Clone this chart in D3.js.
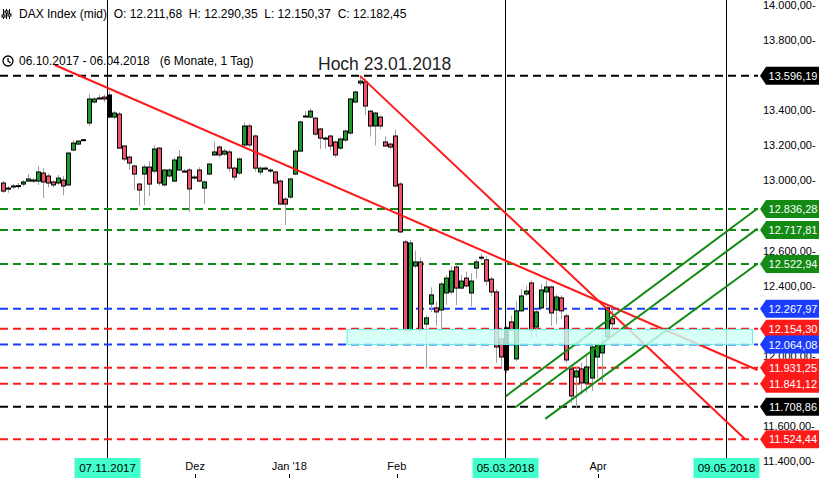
<!DOCTYPE html>
<html lang="en">
<head>
<meta charset="utf-8">
<title>DAX Index</title>
<script src="https://d3js.org/d3.v7.min.js"></script>
<style>
  body { margin: 0; background: #fff; }
  text { font-family: "Liberation Sans", Arial, sans-serif; }
</style>
</head>
<body>
<script>
// Daily candles 06.10.2017 - 06.04.2018: [open, high, low, close]
var candles = [
  [12985,12996,12928,12939],[12956,12968,12930,12956],[12968,12980,12950,12968],[12968,12985,12950,12970],
  [12979,13002,12965,12991],[12996,13036,12990,13008],[12996,13015,12985,13002],[12996,13082,12974,13048],
  [13042,13070,12900,12991],[13025,13040,12960,12985],[12991,13000,12960,12974],[12985,13030,12975,13013],
  [13002,13025,12915,12968],[12974,13160,12968,13156],[13173,13230,13165,13213],[13207,13230,13200,13224],
  [13230,13236,13226,13232],[13327,13492,13310,13464],[13447,13475,13440,13464],[13469,13490,13460,13470],
  [13475,13490,13445,13464],[13487,13510,13355,13361],[13361,13395,13350,13384],[13378,13390,13180,13184],
  [13196,13200,13110,13122],[13133,13140,13060,13099],[13082,13090,12945,13036],[12979,12985,12855,12945],
  [13036,13090,12860,13076],[13076,13110,12910,12979],[13053,13200,13040,13179],[13184,13190,12970,12985],
  [12974,13065,12965,13059],[13025,13070,13015,13059],[12996,13130,12990,13116],[13059,13173,13055,13133],
  [13053,13065,13045,13050],[13059,13070,12820,12951],[13019,13030,13005,13019],[13059,13075,12990,12996],
  [12956,13000,12865,12991],[13036,13100,13030,13093],[13145,13220,13140,13162],[13190,13200,13130,13145],
  [13150,13180,13140,13167],[13162,13175,13050,13070],[13070,13080,13000,13019],[13042,13130,13030,13122],
  [13202,13330,13190,13310],[13310,13325,13190,13202],[13253,13260,13050,13070],[13048,13080,13030,13070],
  [13070,13080,13060,13070],[13059,13070,13040,13059],[13048,13055,12975,12985],[12996,13005,12860,12865],
  [12893,12905,12745,12865],[12905,13015,12895,13008],[13036,13180,13030,13167],[13167,13340,13160,13333],
  [13367,13395,13360,13367],[13361,13410,13355,13395],[13355,13360,13255,13264],[13293,13300,13180,13241],
  [13241,13250,13180,13241],[13253,13260,13170,13196],[13219,13225,13130,13145],[13184,13245,13175,13236],
  [13230,13290,13220,13281],[13270,13470,13260,13464],[13447,13510,13440,13504],[13555,13596,13540,13566],
  [13561,13580,13372,13424],[13395,13400,13250,13310],[13310,13390,13200,13384],[13361,13370,13290,13310],
  [13219,13250,13190,13196],[13207,13215,13180,13190],[13253,13290,12960,12968],[12979,12990,12700,12706],
  [12649,12660,12140,12147],[12147,12660,12140,12643],[12512,12600,12500,12535],[12535,12560,12140,12147],
  [12181,12230,11930,12216],[12295,12390,12250,12347],[12273,12310,12170,12250],[12261,12420,12140,12409],
  [12358,12460,12290,12443],[12364,12510,12350,12483],[12506,12520,12290,12386],[12386,12460,12380,12426],
  [12443,12480,12390,12398],[12358,12470,12280,12426],[12500,12550,12440,12535],[12562,12580,12545,12560],
  [12547,12570,12400,12426],[12437,12450,12340,12364],[12364,12380,11960,12050],[12096,12150,11940,11993],
  [12159,12170,11900,11919],[12193,12230,12140,12147],[11982,12310,11970,12256],[12256,12380,12250,12341],
  [12352,12400,12340,12369],[12415,12430,12100,12147],[12164,12260,12100,12250],[12273,12410,12265,12375],
  [12364,12430,12280,12392],[12392,12400,12170,12244],[12261,12350,12180,12335],[12330,12345,12210,12256],
  [12227,12240,11960,11976],[11925,11935,11730,11771],[11879,11940,11700,11913],[11925,11960,11780,11845],
  [11845,12000,11790,11936],[11873,12060,11800,12050],[11993,12080,11870,12062],[12016,12120,11850,12062],
  [12107,12290,12100,12273],[12211,12290,12150,12182]
];

// horizontal levels
var levelValues = [13596.19, 12836.28, 12717.81, 12522.94, 12267.97, 12154.30, 12064.08, 11931.25, 11841.12, 11708.86, 11524.44];
var levelLabels = ["13.596,19","12.836,28","12.717,81","12.522,94","12.267,97","12.154,30","12.064,08","11.931,25","11.841,12","11.708,86","11.524,44"];
var levelKinds  = ["black","green","green","green","blue","red","blue","red","red","black","red"];

// y axis ticks
var yTicks = [14000,13800,13600,13400,13200,13000,12800,12600,12400,12200,12000,11800,11600,11400];
var yTickLabels = ["14.000,00","13.800,00","13.600,00","13.400,00","13.200,00","13.000,00","12.800,00","12.600,00","12.400,00","12.200,00","12.000,00","11.800,00","11.600,00","11.400,00"];

// month ticks (position in trading-day index)
var monthPos = [38.2, 56.9, 78.3, 118.3];
var monthNames = ["Dez", "Jan '18", "Feb", "Apr"];

// marked dates (vertical lines)
var markPos = [20.7, 99.8, 143.7];
var markNames = ["07.11.2017", "05.03.2018", "09.05.2018"];

// trend lines: [index1, price1, index2, price2]
var redLines = [[10.3, 13658, 150, 11919], [71, 13596, 147.5, 11525]];
var greenLines = [[100, 11770, 150, 12840], [101.8, 11705, 150, 12725], [107.8, 11640, 150, 12525]];

// support zone
var zone = [68.4, 12150, 149, 12064];

var width = 819, height = 478;
var colors = { black: "#000000", green: "#138a13", blue: "#1a3cff", red: "#ff1a1a" };

var x = d3.scaleLinear().domain([0, 150]).range([3, 757.5]);
var y = d3.scaleLinear().domain([11400, 14000]).range([461, 5]);

var svg = d3.select("body").append("svg")
  .attr("width", width).attr("height", height);

// y axis labels (those hidden behind a level box are left out)
var visibleTicks = yTicks.filter(function (t) {
  return levelValues.every(function (v) { return Math.abs(y(v) - y(t)) > 11; });
});
var yAxis = d3.axisRight(y).tickValues(visibleTicks).tickSize(0)
  .tickFormat(function (d) { return yTickLabels[yTicks.indexOf(d)] + "-"; });
svg.append("g").attr("transform", "translate(763,0)").call(yAxis)
  .call(function (g) { g.select(".domain").remove(); })
  .selectAll("text").attr("x", 0).attr("font-size", 11).attr("fill", "#000")
  .attr("font-family", "Liberation Sans, Arial, sans-serif");

// vertical lines
svg.selectAll(".vline").data(markPos).enter().append("line")
  .attr("x1", function (d) { return Math.round(x(d)) + 0.5; })
  .attr("x2", function (d) { return Math.round(x(d)) + 0.5; })
  .attr("y1", 0).attr("y2", height).attr("stroke", "#000");

// horizontal dashed levels
svg.selectAll(".lvl").data(levelValues).enter().append("line")
  .attr("x1", 0).attr("x2", 758)
  .attr("y1", function (d) { return y(d); }).attr("y2", function (d) { return y(d); })
  .attr("stroke", function (d, i) { return colors[levelKinds[i]]; })
  .attr("stroke-width", 2).attr("stroke-dasharray", "8,5");

// candles
var g = svg.append("g");
var c = g.selectAll("g").data(candles).enter().append("g");
c.append("line")
  .attr("x1", function (d, i) { return Math.round(x(i)) + 0.5; })
  .attr("x2", function (d, i) { return Math.round(x(i)) + 0.5; })
  .attr("y1", function (d) { return y(d[1]); }).attr("y2", function (d) { return y(d[2]); })
  .attr("stroke", "#a0a0a0");
c.append("rect")
  .attr("x", function (d, i) { return Math.round(x(i)) - 1.5; })
  .attr("width", 4)
  .attr("y", function (d) { return y(Math.max(d[0], d[3])); })
  .attr("height", function (d) { return Math.max(1, Math.abs(y(d[0]) - y(d[3]))); })
  .attr("fill", function (d, i) { return (i === 21 || i === 100) ? "#000" : (d[3] >= d[0] ? "#1c9a2a" : "#f0506a"); })
  .attr("stroke", "#000").attr("stroke-width", 1);

// trend lines
svg.selectAll(".red").data(redLines).enter().append("line")
  .attr("x1", function (d) { return x(d[0]); }).attr("y1", function (d) { return y(d[1]); })
  .attr("x2", function (d) { return x(d[2]); }).attr("y2", function (d) { return y(d[3]); })
  .attr("stroke", "#ff1a1a").attr("stroke-width", 2);
svg.selectAll(".grn").data(greenLines).enter().append("line")
  .attr("x1", function (d) { return x(d[0]); }).attr("y1", function (d) { return y(d[1]); })
  .attr("x2", function (d) { return x(d[2]); }).attr("y2", function (d) { return y(d[3]); })
  .attr("stroke", "#138a13").attr("stroke-width", 2);

// support zone
svg.append("rect")
  .attr("x", x(zone[0])).attr("width", x(zone[2]) - x(zone[0]))
  .attr("y", y(zone[1])).attr("height", y(zone[3]) - y(zone[1]))
  .attr("fill", "#ccfff5").attr("fill-opacity", 0.82)
  .attr("stroke", "#66eedd").attr("stroke-width", 1);

// level boxes
var box = svg.selectAll(".box").data(levelValues).enter().append("g")
  .attr("transform", function (d) { return "translate(760," + y(d) + ")"; });
box.append("path").attr("d", "M0,0 L6,-9 L59,-9 L59,9 L6,9 Z")
  .attr("fill", function (d, i) { return colors[levelKinds[i]]; });
box.append("text").attr("x", 33).attr("y", 4).attr("text-anchor", "middle")
  .attr("font-size", 11).attr("fill", "#fff")
  .text(function (d, i) { return levelLabels[i]; });

// x axis: month ticks
svg.selectAll(".mt").data(monthPos).enter().append("line")
  .attr("x1", function (d) { return Math.round(x(d)) + 0.5; })
  .attr("x2", function (d) { return Math.round(x(d)) + 0.5; })
  .attr("y1", 474).attr("y2", 478).attr("stroke", "#000");
svg.selectAll(".mn").data(monthNames).enter().append("text")
  .attr("x", function (d, i) { return x(monthPos[i]); }).attr("y", 470)
  .attr("text-anchor", "middle").attr("font-size", 11).text(function (d) { return d; });

// marked date boxes
var mb = svg.selectAll(".mb").data(markPos).enter().append("g")
  .attr("transform", function (d) { return "translate(" + (Math.round(x(d)) + 0.5) + ",0)"; });
mb.append("rect").attr("x", -33).attr("y", 458).attr("width", 66).attr("height", 20).attr("fill", "#40ffcc");
mb.append("text").attr("y", 472).attr("text-anchor", "middle").attr("font-size", 11.5)
  .text(function (d, i) { return markNames[i]; });

// header texts
svg.append("text").attr("x", 19).attr("y", 18).attr("font-size", 12)
  .style("white-space", "pre")
  .text("DAX Index (mid)  O: 12.211,68  H: 12.290,35  L: 12.150,37  C: 12.182,45");
var icon = svg.append("g").attr("stroke", "#000").attr("stroke-width", 1);
[3.5, 6.5, 9.5].forEach(function (ix, k) {
  icon.append("line").attr("x1", ix).attr("x2", ix).attr("y1", 9).attr("y2", 19);
  icon.append("rect").attr("x", ix - 1.5).attr("y", [15, 11, 14][k]).attr("width", 3).attr("height", 2).attr("fill", "#fff");
});
svg.append("circle").attr("cx", 8).attr("cy", 61).attr("r", 5).attr("fill", "none").attr("stroke", "#000").attr("stroke-width", 1.3);
svg.append("path").attr("d", "M8,58 L8,61 L10.5,63").attr("fill", "none").attr("stroke", "#000").attr("stroke-width", 1.3);
svg.append("text").attr("x", 19).attr("y", 65).attr("font-size", 12)
  .style("white-space", "pre").text("06.10.2017 - 06.04.2018   (6 Monate, 1 Tag)");
svg.append("text").attr("x", 318).attr("y", 70).attr("font-size", 17.5).attr("fill", "#222")
  .text("Hoch 23.01.2018");
</script>
</body>
</html>
